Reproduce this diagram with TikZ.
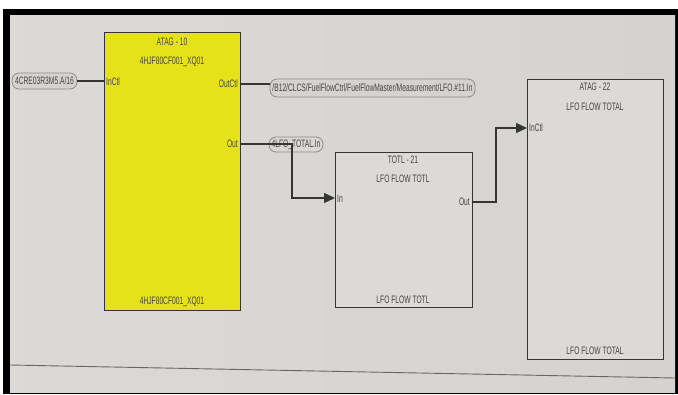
\documentclass[tikz,border=0pt]{standalone}
\usepackage{fontspec}
\setmainfont{Liberation Sans}[FakeStretch=0.62]
\usetikzlibrary{arrows.meta,positioning}
\definecolor{screen}{HTML}{D5D3CF}
\definecolor{boxfill}{HTML}{DCDAD6}
\definecolor{yel}{HTML}{E6E21A}
\definecolor{ink}{HTML}{353532}
\definecolor{txt}{HTML}{454543}
\definecolor{lbl}{HTML}{8C8B88}
\tikzset{
  blockbox/.style={draw=ink, line width=1.1pt, inner sep=0pt, anchor=north west},
  tx/.style={text=txt, font=\fontsize{10.8}{12}\selectfont, inner sep=0pt},
  taglbl/.style={draw=lbl, line width=0.8pt, rounded corners=7pt, fill=screen, text=txt,
     font=\fontsize{10.8}{12}\selectfont, inner xsep=2pt, inner ysep=0pt, minimum height=16pt},
  wire/.style={draw=ink, line width=1.3pt},
  arr/.style={wire, -{Triangle[length=11pt,width=10pt]}}
}
\begin{document}
\begin{tikzpicture}[x=1pt,y=-1pt]
\useasboundingbox (0,0) rectangle (678,394);
\fill[white] (0,0) rectangle (678,394);
\fill[black] (3,9) rectangle (678,394);
\shade[left color=screen!85!white, right color=screen] (10,15) rectangle (675,392);
\draw[gray!80!black, line width=0.9pt] (10,365) -- (675,378);

% ATAG-10 yellow block
\node[blockbox, fill=yel, minimum width=136pt, minimum height=278pt] (atag10) at (104,32) {};
\node[tx] (a10t) at (172,42) {ATAG - 10};
\node[tx] (a10n) at (172,62) {4HJF80CF001\_XQ01};
\node[tx] (a10b) at (172,302) {4HJF80CF001\_XQ01};
\node[tx, anchor=west] (a10in) at (106,82) {InCtl};
\node[tx, anchor=east] (a10oc) at (238,84) {OutCtl};
\node[tx, anchor=east] (a10o) at (238,144) {Out};
\coordinate (p10in) at (104,81);
\coordinate (p10oc) at (240,84);
\coordinate (p10o) at (240,144);

% TOTL-21
\node[blockbox, fill=boxfill, minimum width=137pt, minimum height=155pt] (totl) at (335,152) {};
\node[tx] (t21t) at (403,160) {TOTL - 21};
\node[tx] (t21n) at (403,179) {LFO FLOW TOTL};
\node[tx] (t21b) at (403,300) {LFO FLOW TOTL};
\node[tx, anchor=west] (t21in) at (337,199) {In};
\node[tx, anchor=east] (t21o) at (470,202) {Out};
\coordinate (ptin) at (335,198);
\coordinate (ptout) at (472,202);

% ATAG-22
\node[blockbox, fill=boxfill, minimum width=136pt, minimum height=280pt] (atag22) at (527,79) {};
\node[tx] (a22t) at (595,87) {ATAG - 22};
\node[tx] (a22n) at (595,107) {LFO FLOW TOTAL};
\node[tx] (a22b) at (595,351) {LFO FLOW TOTAL};
\node[tx, anchor=west] (a22in) at (529,128) {InCtl};
\coordinate (p22in) at (527,128);

% tag labels
\node[taglbl, minimum width=65pt] (lblin) at (44.5,81) {4CRE03R3M5.A/16};
\node[taglbl, minimum width=205pt, minimum height=18pt] (lblout) at (372.5,88) {/B12/CLCS/FuelFlowCtrl/FuelFlowMaster/Measurement/LFO.\#11.In};

% wires
\draw[wire] (lblin.east) -- (p10in);
\draw[wire] (p10oc) -- (lblout.west |- p10oc);
\coordinate (bend1) at (292,144);
\coordinate (bend2) at (292,198);
\node[taglbl, fill=none, minimum width=54pt, minimum height=15pt] (lblfo) at (296,144.5) {4LFO\_TOTAL.In};
\draw[arr] (p10o) -- (bend1) -- (bend2) -- (ptin);
\coordinate (bend3) at (496,202);
\coordinate (bend4) at (496,128);
\draw[arr] (ptout) -- (bend3) -- (bend4) -- (p22in);
\end{tikzpicture}
\end{document}
